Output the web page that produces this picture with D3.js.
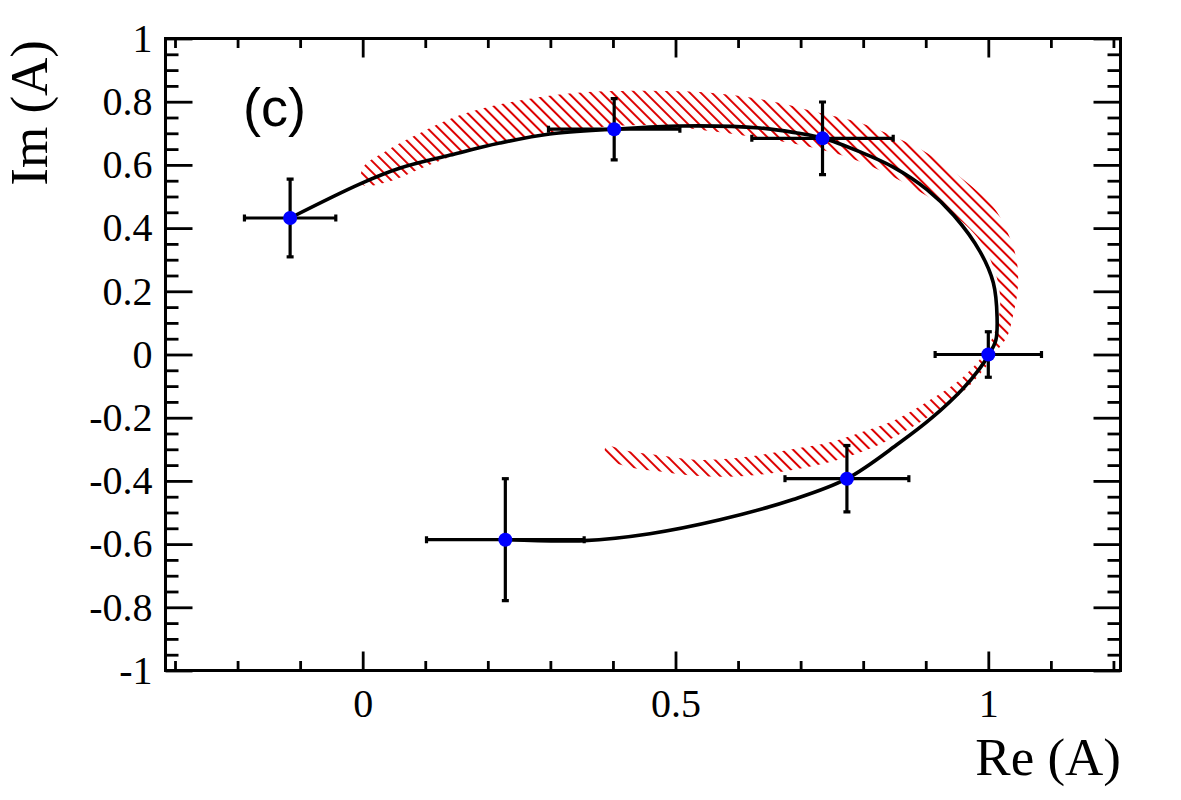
<!DOCTYPE html>
<html>
<head>
<meta charset="utf-8">
<script src="https://cdn.jsdelivr.net/npm/d3@7"></script>
<style>
	body { margin: 0; background: #fff; }
	svg { display: block; }
</style>
</head>
<body>
<svg id="chart" width="1181" height="800"></svg>
<script>
// measured points with errors
const pointRe = [-0.116, 0.228, 0.402, 0.735, 1.0, 0.774]
const pointIm = [0.432, -0.586, 0.713, 0.684, 0.0, -0.393]
const errRe = [0.073, 0.126, 0.105, 0.113, 0.085, 0.099]
const errIm = [0.123, 0.193, 0.097, 0.115, 0.072, 0.105]

// fitted curve
const curveRe = [-0.116, -0.004, 0.060, 0.140, 0.219, 0.299, 0.402, 0.507, 0.635, 0.694, 0.735, 0.795, 0.848, 0.902, 0.945, 0.987, 1.008, 1.014, 1.012, 1.001, 0.985, 0.959, 0.910, 0.857, 0.774, 0.688, 0.571, 0.459, 0.354, 0.228]
const curveIm = [0.432, 0.540, 0.590, 0.631, 0.669, 0.698, 0.713, 0.723, 0.717, 0.701, 0.685, 0.641, 0.593, 0.522, 0.440, 0.325, 0.227, 0.119, 0.045, 0.0, -0.048, -0.109, -0.200, -0.281, -0.393, -0.459, -0.523, -0.567, -0.589, -0.586]

// hatched band, outer and inner edges (both from the top-left end)
const bandOuterRe = [0.000, 0.040, 0.095, 0.148, 0.200, 0.255, 0.307, 0.360, 0.414, 0.475, 0.539, 0.603, 0.667, 0.731, 0.795, 0.851, 0.902, 0.955, 1.008, 1.034, 1.046, 1.047, 1.039, 1.030, 1.015, 0.995, 0.958, 0.907, 0.851, 0.798, 0.744, 0.691, 0.638, 0.584, 0.531, 0.478, 0.424, 0.389]
const bandOuterIm = [0.590, 0.647, 0.704, 0.752, 0.783, 0.805, 0.821, 0.831, 0.834, 0.834, 0.831, 0.818, 0.796, 0.764, 0.733, 0.688, 0.638, 0.562, 0.467, 0.372, 0.290, 0.205, 0.119, 0.056, 0.015, -0.042, -0.121, -0.194, -0.260, -0.308, -0.342, -0.364, -0.380, -0.387, -0.384, -0.371, -0.355, -0.327]
const bandInnerRe = [0.000, 0.040, 0.095, 0.148, 0.200, 0.255, 0.307, 0.360, 0.467, 0.539, 0.635, 0.715, 0.779, 0.848, 0.928, 0.982, 1.008, 1.019, 1.014, 0.995, 0.958, 0.907, 0.851, 0.798, 0.744, 0.691, 0.638, 0.584, 0.531, 0.478, 0.424, 0.389]
const bandInnerIm = [0.537, 0.546, 0.590, 0.631, 0.663, 0.685, 0.704, 0.717, 0.726, 0.711, 0.685, 0.657, 0.622, 0.562, 0.467, 0.372, 0.277, 0.183, 0.094, 0.009, -0.074, -0.143, -0.207, -0.245, -0.279, -0.298, -0.317, -0.330, -0.333, -0.320, -0.305, -0.292]

const xMajor = [0, 0.5, 1]
const xMinor = [-0.3, -0.2, -0.1, 0.1, 0.2, 0.3, 0.4, 0.6, 0.7, 0.8, 0.9, 1.1, 1.2]
const yMajor = [-1, -0.8, -0.6, -0.4, -0.2, 0, 0.2, 0.4, 0.6, 0.8, 1]
const yMinor = d3.range(-20, 21).filter(i => i % 4 != 0).map(i => i * 0.05)

const svg = d3.select('#chart')

const frame = {left: 165.5, right: 1120.5, top: 38.5, bottom: 670.5}

const x = d3.scaleLinear().domain([-0.3152, 1.2113]).range([frame.left, frame.right])
const y = d3.scaleLinear().domain([-1, 1]).range([frame.bottom, frame.top])

const serif = '"Liberation Serif", "Times New Roman", serif'

// hatch pattern
const defs = svg.append('defs')
const pat = defs.append('pattern')
	.attr('id', 'hatch')
	.attr('patternUnits', 'userSpaceOnUse')
	.attr('width', 7.8)
	.attr('height', 7.8)
	.attr('patternTransform', 'rotate(-45)')
pat.append('line')
	.attr('x1', 1).attr('x2', 1)
	.attr('y1', -1).attr('y2', 9)
	.attr('stroke', '#dd0000')
	.attr('stroke-width', 2)

defs.append('clipPath').attr('id', 'frameclip')
	.append('rect')
	.attr('x', frame.left).attr('y', frame.top)
	.attr('width', frame.right - frame.left).attr('height', frame.bottom - frame.top)

const plot = svg.append('g').attr('clip-path', 'url(#frameclip)')

// band
const bandPts = bandOuterRe.map((r, i) => [r, bandOuterIm[i]])
	.concat(bandInnerRe.map((r, i) => [r, bandInnerIm[i]]).reverse())

plot.append('path')
	.attr('d', d3.line().x(d => x(d[0])).y(d => y(d[1])).curve(d3.curveCatmullRomClosed)(bandPts))
	.attr('fill', 'url(#hatch)')
	.attr('stroke', 'none')

// curve
const curvePts = curveRe.map((r, i) => [r, curveIm[i]])
plot.append('path')
	.attr('d', d3.line().x(d => x(d[0])).y(d => y(d[1])).curve(d3.curveCatmullRom.alpha(0.5))(curvePts))
	.attr('fill', 'none')
	.attr('stroke', '#000')
	.attr('stroke-width', 3.6)

// error bars
const pts = pointRe.map((r, i) => ({re: r, im: pointIm[i], ere: errRe[i], eim: errIm[i]}))
const eb = plot.append('g').attr('stroke', '#000').attr('stroke-width', 3.2)
const cap = 3.5

pts.forEach(p => {
	eb.append('line')
		.attr('x1', x(p.re - p.ere)).attr('x2', x(p.re + p.ere))
		.attr('y1', y(p.im)).attr('y2', y(p.im))
	eb.append('line')
		.attr('x1', x(p.re)).attr('x2', x(p.re))
		.attr('y1', y(p.im - p.eim)).attr('y2', y(p.im + p.eim))
	;[p.re - p.ere, p.re + p.ere].forEach(v => {
		eb.append('line')
			.attr('x1', x(v)).attr('x2', x(v))
			.attr('y1', y(p.im) - cap).attr('y2', y(p.im) + cap)
	})
	;[p.im - p.eim, p.im + p.eim].forEach(v => {
		eb.append('line')
			.attr('x1', x(p.re) - cap).attr('x2', x(p.re) + cap)
			.attr('y1', y(v)).attr('y2', y(v))
	})
})

plot.selectAll('.pt')
	.data(pts)
	.enter()
	.append('circle')
	.attr('class', 'pt')
	.attr('cx', d => x(d.re))
	.attr('cy', d => y(d.im))
	.attr('r', 7)
	.attr('fill', '#0000ff')

// axes
const styleAxis = g => {
	g.select('.domain').remove()
	g.selectAll('line').attr('stroke', '#000').attr('stroke-width', 2.8)
	g.selectAll('text').attr('font-family', serif).attr('font-size', 40).attr('fill', '#000')
}

svg.append('g').attr('transform', `translate(${frame.left},0)`)
	.call(d3.axisLeft(y).tickValues(yMajor).tickSize(-27).tickPadding(13).tickFormat(d3.format('')))
	.call(styleAxis)
svg.append('g').attr('transform', `translate(${frame.left},0)`)
	.call(d3.axisLeft(y).tickValues(yMinor).tickSize(-13).tickFormat(''))
	.call(styleAxis)
svg.append('g').attr('transform', `translate(${frame.right},0)`)
	.call(d3.axisRight(y).tickValues(yMajor).tickSize(-27).tickFormat(''))
	.call(styleAxis)
svg.append('g').attr('transform', `translate(${frame.right},0)`)
	.call(d3.axisRight(y).tickValues(yMinor).tickSize(-13).tickFormat(''))
	.call(styleAxis)

svg.append('g').attr('transform', `translate(0,${frame.bottom})`)
	.call(d3.axisBottom(x).tickValues(xMajor).tickSize(-19).tickPadding(18).tickFormat(d3.format('')))
	.call(styleAxis)
svg.append('g').attr('transform', `translate(0,${frame.bottom})`)
	.call(d3.axisBottom(x).tickValues(xMinor).tickSize(-9.5).tickFormat(''))
	.call(styleAxis)
svg.append('g').attr('transform', `translate(0,${frame.top})`)
	.call(d3.axisTop(x).tickValues(xMajor).tickSize(-19).tickFormat(''))
	.call(styleAxis)
svg.append('g').attr('transform', `translate(0,${frame.top})`)
	.call(d3.axisTop(x).tickValues(xMinor).tickSize(-9.5).tickFormat(''))
	.call(styleAxis)

// tick labels use a plain hyphen for the minus sign
svg.selectAll('text').each(function() {
	const t = d3.select(this)
	t.text(t.text().replace('\u2212', '-'))
})

// frame
svg.append('rect')
	.attr('x', frame.left).attr('y', frame.top)
	.attr('width', frame.right - frame.left).attr('height', frame.bottom - frame.top)
	.attr('fill', 'none')
	.attr('stroke', '#000')
	.attr('stroke-width', 3)

// titles
svg.append('text')
	.text('Re (A)')
	.attr('x', 1121)
	.attr('y', 775)
	.attr('text-anchor', 'end')
	.attr('font-family', serif)
	.attr('font-size', 53)

svg.append('text')
	.text('Im (A)')
	.attr('transform', 'translate(47,40) rotate(-90)')
	.attr('text-anchor', 'end')
	.attr('font-family', serif)
	.attr('font-size', 53)

svg.append('text')
	.text('(c)')
	.attr('x', 243)
	.attr('y', 126)
	.attr('font-family', '"Liberation Sans", Arial, sans-serif')
	.attr('font-size', 54)
</script>
</body>
</html>
